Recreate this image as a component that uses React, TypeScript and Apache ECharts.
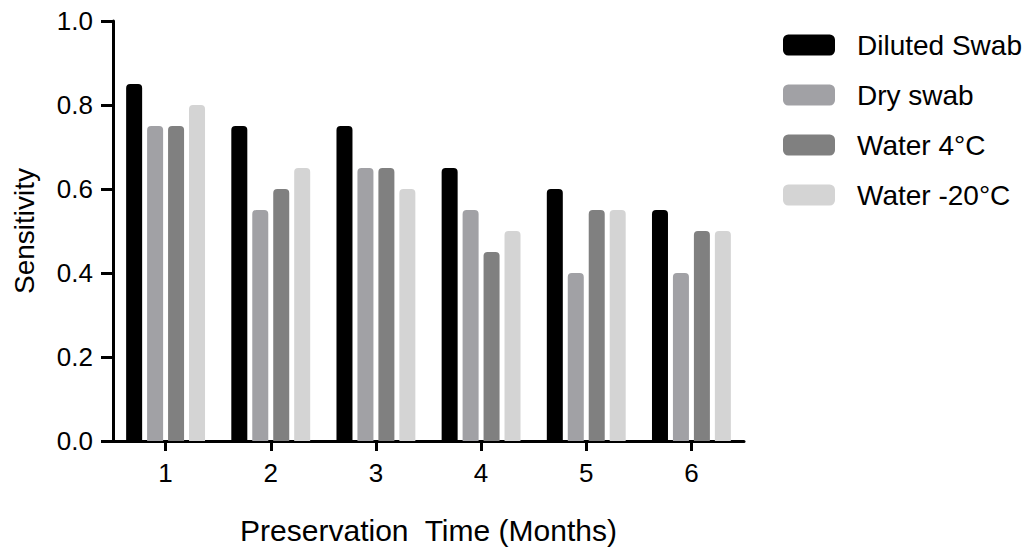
import React, { useEffect, useRef } from "react";
import * as echarts from "echarts";

const categories = ["1", "2", "3", "4", "5", "6"];
const dilutedSwab = [0.85, 0.75, 0.75, 0.65, 0.6, 0.55];
const drySwab = [0.75, 0.55, 0.65, 0.55, 0.4, 0.4];
const water4 = [0.75, 0.6, 0.65, 0.45, 0.55, 0.5];
const waterMinus20 = [0.8, 0.65, 0.6, 0.5, 0.55, 0.5];
const seriesNames = ["Diluted Swab", "Dry swab", "Water 4\u00B0C", "Water -20\u00B0C"];
const seriesColors = ["#000000", "#a1a1a5", "#808080", "#d4d4d4"];

const FONT = "'Liberation Sans', Arial, sans-serif";

export default function App() {
  const ref = useRef<HTMLDivElement>(null);
  useEffect(() => {
    if (!ref.current) return;
    const chart = echarts.init(ref.current, null, { renderer: "svg" });
    const data = [dilutedSwab, drySwab, water4, waterMinus20];
    chart.setOption({
      animation: false,
      backgroundColor: "#ffffff",
      textStyle: { fontFamily: FONT, color: "#000" },
      grid: { left: 113, top: 21, width: 631, height: 420, containLabel: false },
      legend: {
        orient: "vertical",
        left: 783,
        top: 31,
        padding: 0,
        itemWidth: 52,
        itemHeight: 21,
        itemGap: 22,
        icon: "roundRect",
        textStyle: { fontSize: 28, color: "#000", fontFamily: FONT, padding: [0, 0, 0, 17] },
        data: seriesNames,
      },
      xAxis: {
        type: "category",
        data: categories,
        name: "Preservation  Time (Months)",
        nameLocation: "middle",
        nameGap: 74,
        nameTextStyle: { fontSize: 30, color: "#000", fontFamily: FONT },
        axisLine: { show: true, lineStyle: { color: "#000", width: 3 } },
        axisTick: { show: true, alignWithLabel: true, length: 10, lineStyle: { color: "#000", width: 3 } },
        axisLabel: { fontSize: 26, color: "#000", margin: 19, fontFamily: FONT },
        splitLine: { show: false },
      },
      yAxis: {
        type: "value",
        min: 0,
        max: 1,
        interval: 0.2,
        name: "Sensitivity",
        nameLocation: "middle",
        nameGap: 75,
        nameTextStyle: { fontSize: 28, color: "#000", fontFamily: FONT },
        axisLine: { show: true, lineStyle: { color: "#000", width: 3 } },
        axisTick: { show: true, length: 12, lineStyle: { color: "#000", width: 3 } },
        axisLabel: {
          fontSize: 26,
          color: "#000",
          margin: 20,
          fontFamily: FONT,
          formatter: (v: number) => v.toFixed(1),
        },
        splitLine: { show: false },
      },
      series: seriesNames.map((name, i) => ({
        name,
        type: "bar",
        data: data[i],
        barWidth: 16,
        barGap: "31%",
        itemStyle: { color: seriesColors[i], borderRadius: [4, 4, 0, 0] },
      })),
    });
    return () => chart.dispose();
  }, []);
  return (
    <div
      ref={ref}
      style={{ position: "fixed", left: 0, top: 0, width: 1036, height: 553, background: "#fff" }}
    />
  );
}
